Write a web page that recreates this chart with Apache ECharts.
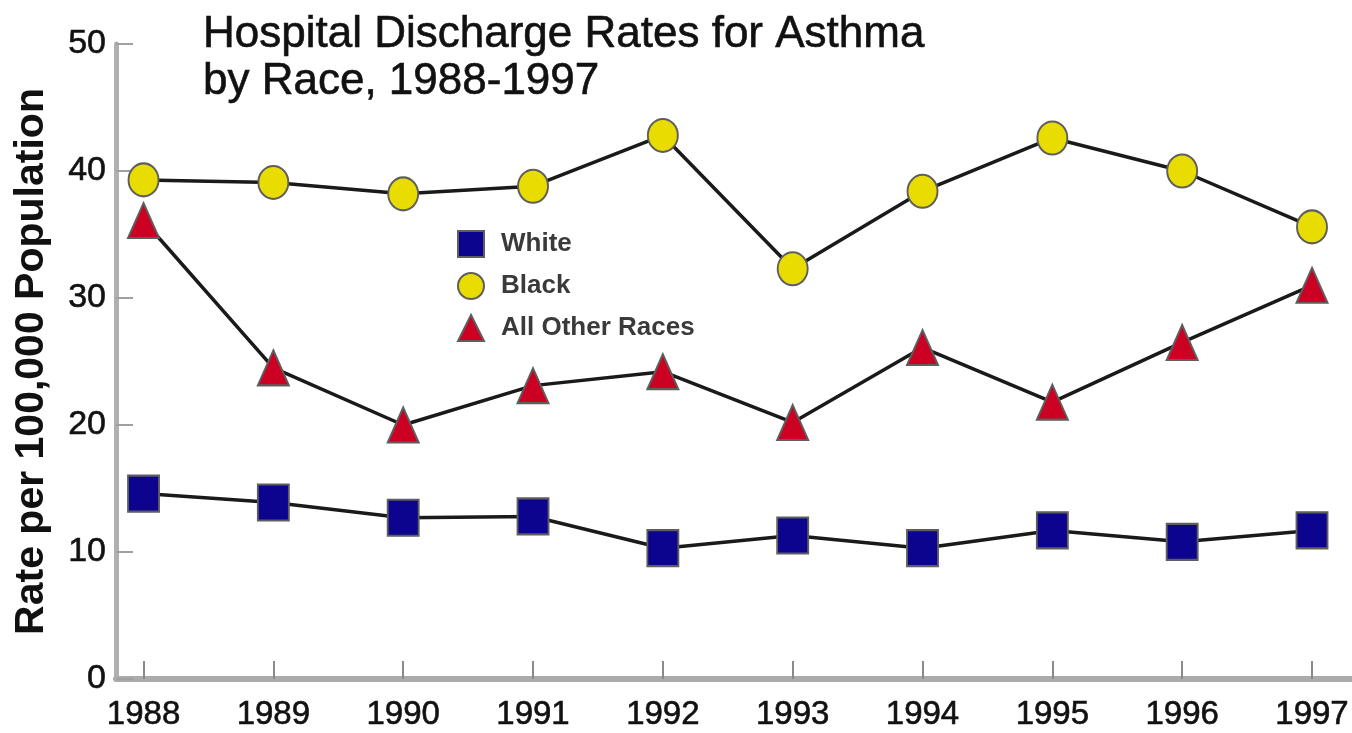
<!DOCTYPE html>
<html>
<head>
<meta charset="utf-8">
<script src="https://cdn.jsdelivr.net/npm/echarts@6/dist/echarts.min.js"></script>
<style>
html,body{margin:0;padding:0;background:#fff;}
#chart{width:1352px;height:733px;}
</style>
</head>
<body>
<div id="chart"></div>
<script>
var years = [1988, 1989, 1990, 1991, 1992, 1993, 1994, 1995, 1996, 1997];
var white = [14.6, 13.9, 12.7, 12.8, 10.3, 11.3, 10.3, 11.7, 10.8, 11.7];
var black = [39.3, 39.1, 38.2, 38.8, 42.8, 32.3, 38.4, 42.6, 40.0, 35.6];
var otherRaces = [36.1, 24.5, 20.0, 23.1, 24.2, 20.2, 26.1, 21.8, 26.5, 31.0];
var yTicks = [0, 10, 20, 30, 40, 50];
var seriesNames = ['White', 'Black', 'All Other Races'];
var titleText = 'Hospital Discharge Rates for Asthma\nby Race, 1988-1997';
var yAxisName = 'Rate per 100,000 Population';

function pairs(vals) {
  return years.map(function (y, i) { return [y, vals[i]]; });
}

var chart = echarts.init(document.getElementById('chart'), null, {renderer: 'canvas'});
var lineStyle = {color: '#1a1a1a', width: 3.5};
var fontFam = 'Liberation Sans, Arial, Helvetica, sans-serif';

chart.setOption({
  animation: false,
  backgroundColor: '#ffffff',
  title: {
    text: titleText,
    left: 203,
    top: 12,
    padding: 0,
    textStyle: {fontFamily: fontFam, fontSize: 44, fontWeight: 'normal', color: '#111', lineHeight: 46.5,
      textBorderColor: '#111', textBorderWidth: 0.6}
  },
  legend: {
    orient: 'vertical',
    left: 452,
    top: 225,
    itemWidth: 26,
    itemHeight: 26,
    itemGap: 14,
    textStyle: {fontFamily: fontFam, fontSize: 26, fontWeight: 'bold', color: '#3a3a3a', padding: [0, 0, 0, 12]},
    data: [
      {name: seriesNames[0], icon: 'rect'},
      {name: seriesNames[1], icon: 'circle'},
      {name: seriesNames[2], icon: 'triangle'}
    ]
  },
  grid: {left: 116, right: 0, top: 44, bottom: 54, containLabel: false, outerBoundsMode: 'none'},
  xAxis: {
    type: 'value',
    min: 1987.788,
    max: 1997.308,
    splitLine: {show: false},
    axisLine: {show: true, lineStyle: {color: '#ababab', width: 6}},
    axisTick: {show: true, inside: true, length: 18, customValues: years, lineStyle: {color: '#8a8a8a', width: 2}},
    axisLabel: {
      customValues: years,
      margin: 19,
      fontFamily: fontFam,
      fontSize: 33,
      color: '#111',
      textBorderColor: '#111', textBorderWidth: 0.6,
      formatter: function (v) { return String(Math.round(v)); }
    }
  },
  yAxis: {
    type: 'value',
    min: 0,
    max: 50,
    interval: 10,
    name: yAxisName,
    nameLocation: 'middle',
    nameRotate: 90,
    nameGap: 64,
    nameTextStyle: {fontFamily: fontFam, fontSize: 41, fontWeight: 'bold', color: '#111'},
    splitLine: {show: false},
    axisLine: {show: true, lineStyle: {color: '#b0b0b0', width: 5}},
    axisTick: {show: true, inside: true, length: 17, lineStyle: {color: '#a0a0a0', width: 2}},
    axisLabel: {
      margin: 10,
      fontFamily: fontFam,
      fontSize: 34,
      color: '#111',
      textBorderColor: '#111', textBorderWidth: 0.6,
      customValues: yTicks
    }
  },
  series: [
    {
      name: seriesNames[0], type: 'line', data: pairs(white),
      symbol: 'rect', symbolSize: [31, 36],
      itemStyle: {color: '#0c048f', borderColor: '#5e5e5e', borderWidth: 2},
      lineStyle: lineStyle, z: 3
    },
    {
      name: seriesNames[1], type: 'line', data: pairs(black),
      symbol: 'circle', symbolSize: [30, 33],
      itemStyle: {color: '#e8dc00', borderColor: '#5e5e5e', borderWidth: 2},
      lineStyle: lineStyle, z: 3
    },
    {
      name: seriesNames[2], type: 'line', data: pairs(otherRaces),
      symbol: 'triangle', symbolSize: [31, 35],
      itemStyle: {color: '#cc0022', borderColor: '#5e5e5e', borderWidth: 2},
      lineStyle: lineStyle, z: 3
    }
  ]
});
</script>
</body>
</html>
